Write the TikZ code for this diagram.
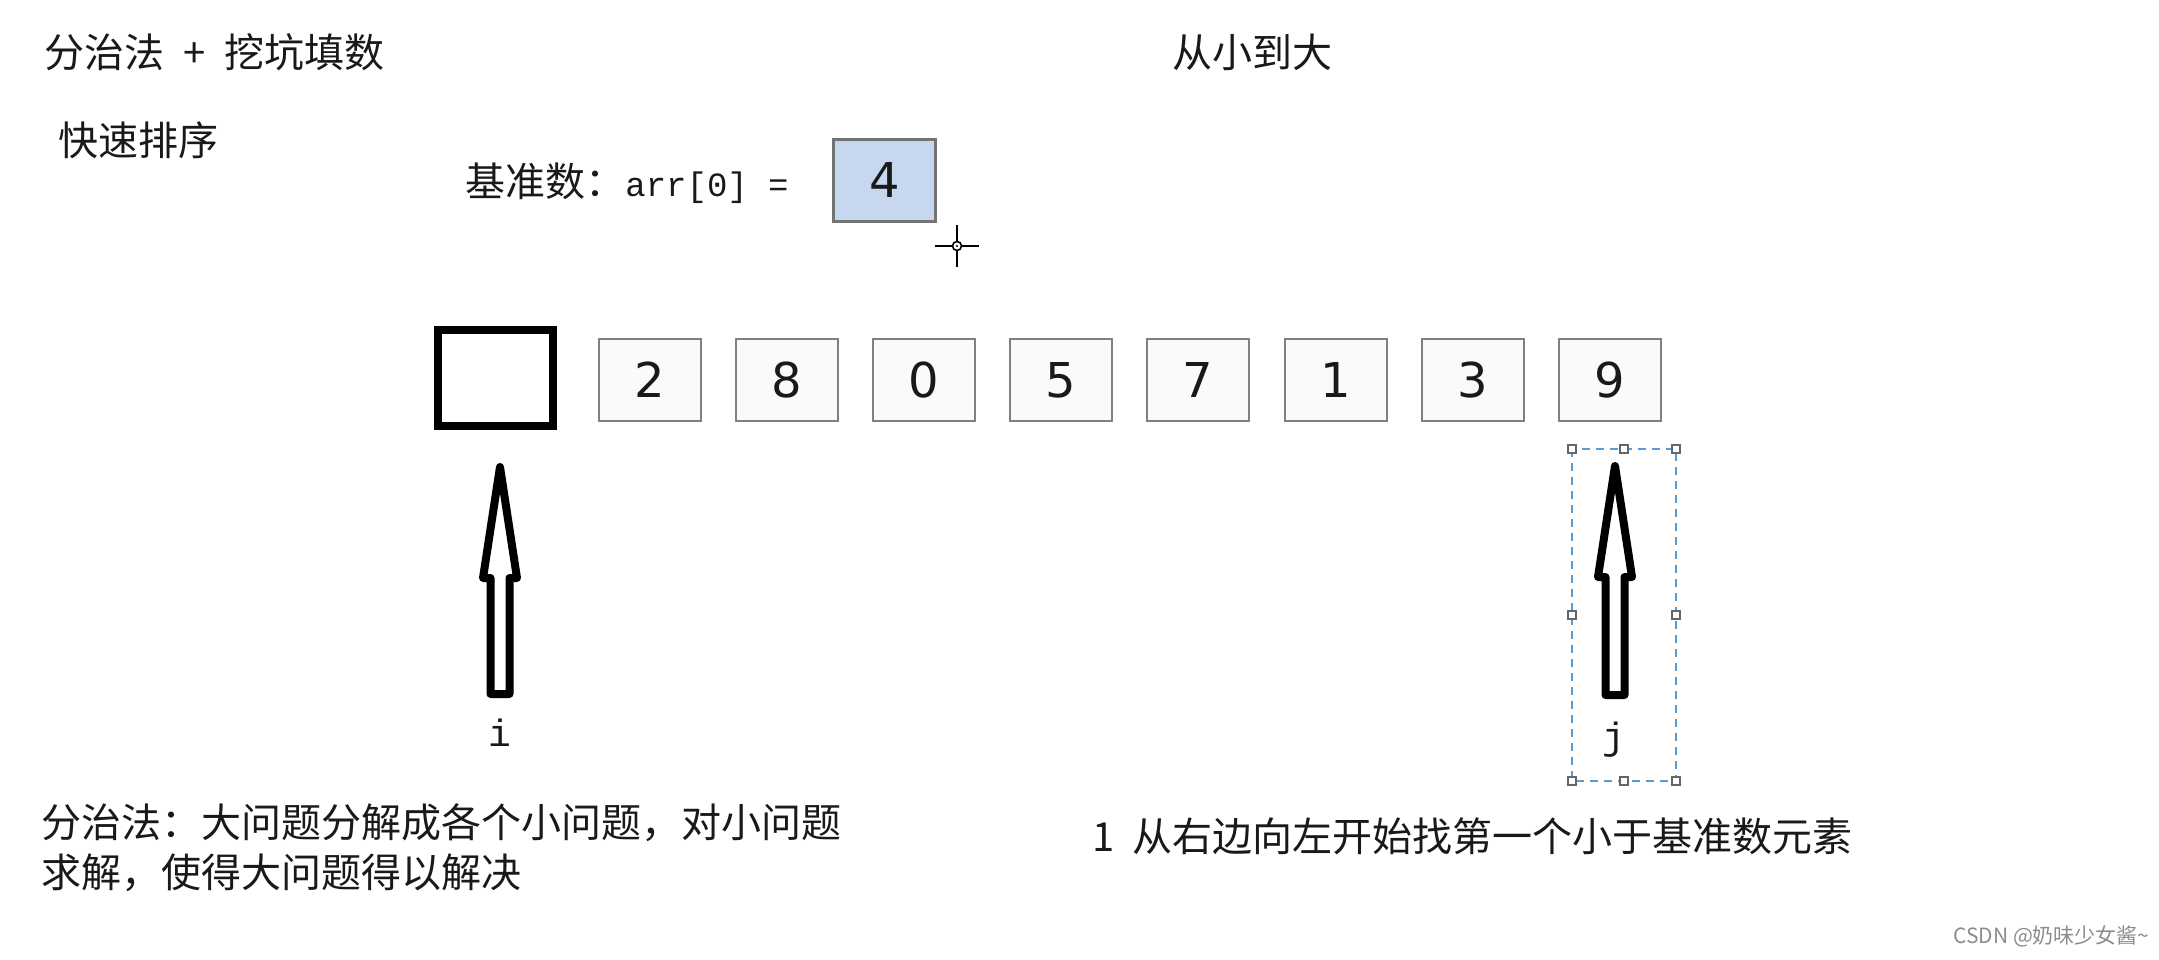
\documentclass[tikz,border=0pt]{standalone}
\usepackage{fontspec}
\setmainfont{Noto Sans CJK SC}
\newfontfamily\monofont{Liberation Mono}
\newfontfamily\digitfont{DejaVu Sans}
\definecolor{pivotblue}{HTML}{C6D7EF}
\definecolor{selblue}{HTML}{5B9BD5}

\begin{document}
\begin{tikzpicture}[x=0.5pt, y=-0.5pt,
  every node/.style={inner sep=0pt, text=black!90},
  txt/.style={anchor=west, font=\fontsize{20pt}{25pt}\selectfont},
  numbox/.style={draw=black!50, fill=black!2, line width=1.2pt, minimum width=51pt, minimum height=41pt, font=\digitfont\fontsize{24pt}{28pt}\selectfont},
  holebox/.style={draw=black, line width=4pt, minimum width=57.5pt, minimum height=48pt},
  pivotbox/.style={numbox, draw=black!55, fill=pivotblue},
  fatarrow/.style={draw=black, line width=4pt, line join=round, fill=white},
  ptrlabel/.style={font=\monofont\fontsize{19pt}{22pt}\selectfont},
  selbox/.style={draw=selblue, dash pattern=on 4pt off 3pt, line width=0.8pt},
  handle/.style={draw=black!60, fill=white, line width=0.6pt, minimum size=4pt}]
\useasboundingbox (0,0) rectangle (2159,959);

% titles
\node[txt] (title) at (44,52) {分治法\makebox[30pt]{+}挖坑填数};
\node[txt] (order) at (1172,52) {从小到大};
\node[txt] (sort) at (58,140) {快速排序};
\node[txt] (pivottxt) at (465,183) {基准数：{\monofont\fontsize{17pt}{20pt}\selectfont arr[0] =}};
\node[pivotbox] (pivot) at (884.5,180.5) {4};

% cursor
\draw[line width=1pt] (935,246) -- (979,246);
\draw[line width=1pt] (957,225) -- (957,267);
\draw[line width=0.8pt, fill=white] (957,246) circle (4.5);
\fill (957,246) circle (1.2);

% array
\node[holebox] (hole) at (495,378) {};
\node[numbox] (n1) at (650,380) {2};
\node[numbox] (n2) at (787,380) {8};
\node[numbox] (n3) at (924,380) {0};
\node[numbox] (n4) at (1061,380) {5};
\node[numbox] (n5) at (1198,380) {7};
\node[numbox] (n6) at (1336,380) {1};
\node[numbox] (n7) at (1473,380) {3};
\node[numbox] (n8) at (1610,380) {9};

% pointers
\draw[fatarrow] (500,467) -- ++(17,111) -- ++(-7.5,0) -- ++(0,116) -- ++(-19,0) -- ++(0,-116) -- ++(-7.5,0) -- cycle;
\node[ptrlabel] (i) at (500,733) {i};
\draw[fatarrow] (1615,466) -- ++(17,111) -- ++(-7.5,0) -- ++(0,118) -- ++(-19,0) -- ++(0,-118) -- ++(-7.5,0) -- cycle;
\node[ptrlabel] (j) at (1614,740) {j};

% selection frame round j
\draw[selbox] (1572,449) rectangle (1676,781);
\foreach \p [count=\k] in {(1572,449),(1624,449),(1676,449),(1676,615),(1676,781),(1624,781),(1572,781),(1572,615)}
  \node[handle] (h\k) at \p {};

% notes
\node[txt, align=left] (divide) at (41,848) {分治法：大问题分解成各个小问题，对小问题\\求解，使得大问题得以解决};
\node[txt] (step1) at (1092,836) {\makebox[20pt][l]{1}从右边向左开始找第一个小于基准数元素};
\node[anchor=east, text=black!45, font=\fontsize{10.5pt}{12pt}\selectfont] (mark) at (2150,936) {CSDN @奶味少女酱\textasciitilde};
\end{tikzpicture}
\end{document}
